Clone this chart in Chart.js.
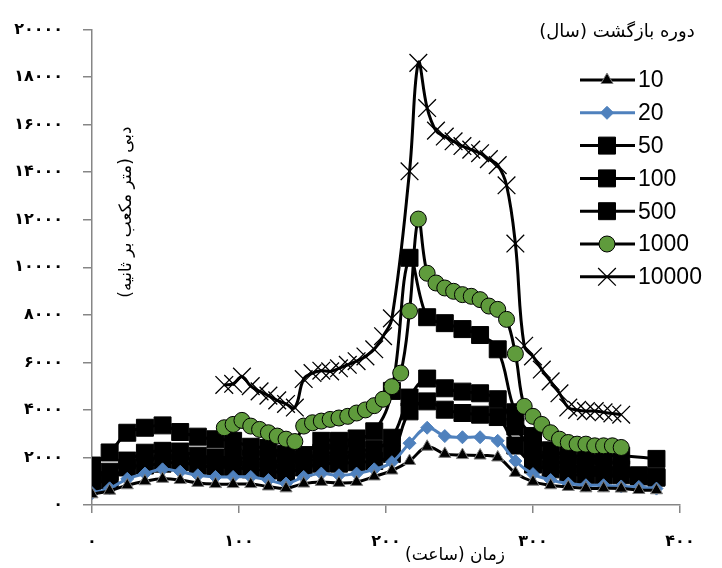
<!DOCTYPE html>
<html>
<head>
<meta charset="utf-8">
<script src="https://cdn.jsdelivr.net/npm/chart.js@4.4.1/dist/chart.umd.min.js"></script>
<style>
  html, body { margin: 0; padding: 0; background: #fff; }
  #wrap { width: 722px; height: 568px; position: relative; }
</style>
</head>
<body>
<div id="wrap"><canvas id="chart" width="722" height="568"></canvas></div>
<script>
// Données (heures / débit)
const hours12 = [0, 12, 24, 36, 48, 60, 72, 84, 96, 108, 120, 132, 144, 156, 168, 180, 192, 204, 216, 228, 240, 252, 264, 276, 288, 300, 312, 324, 336, 348, 360, 372, 384];
const q10 = [450, 600, 830, 1000, 1100, 1050, 930, 880, 880, 880, 780, 700, 900, 970, 930, 970, 1200, 1450, 1850, 2450, 2150, 2100, 2080, 2000, 1350, 980, 830, 760, 700, 700, 690, 630, 620];
const q20 = [500, 700, 1100, 1320, 1500, 1400, 1250, 1180, 1180, 1180, 1050, 900, 1180, 1320, 1250, 1320, 1500, 1800, 2600, 3250, 2900, 2850, 2850, 2700, 1850, 1300, 1050, 900, 830, 830, 780, 760, 690];
const q50 = [950, 1050, 1580, 1660, 1740, 1800, 1650, 1600, 1580, 1500, 1450, 1350, 1580, 1740, 1740, 1800, 1850, 2150, 3940, 4360, 4010, 3870, 3800, 3700, 2500, 1700, 1500, 1300, 1250, 1250, 1250, 1200, 1150];
const q100 = [1250, 1400, 1870, 2200, 2280, 2250, 2075, 2000, 2000, 1950, 1900, 1800, 1900, 2200, 2150, 2300, 2350, 2830, 4520, 5320, 4910, 4770, 4700, 4450, 3300, 2300, 1900, 1700, 1600, 1600, 1500, 1250, 1175];
const hours500 = [0, 12, 24, 36, 48, 60, 72, 84, 96, 108, 120, 132, 144, 156, 168, 180, 192, 204, 216, 228, 240, 252, 264, 276, 288, 300, 312, 324, 336, 348, 360, 384];
const q500 = [1660, 2210, 3040, 3250, 3350, 3070, 2875, 2765, 2700, 2450, 2400, 2150, 2100, 2700, 2700, 2800, 3100, 4800, 10400, 7900, 7650, 7400, 7150, 6550, 3900, 2900, 2300, 2100, 2050, 2050, 2075, 1940];
const hours1000 = [90, 96, 102, 108, 114, 120, 126, 132, 138, 144, 150, 156, 162, 168, 174, 180, 186, 192, 198, 204, 210, 216, 222, 228, 234, 240, 246, 252, 258, 264, 270, 276, 282, 288, 294, 300, 306, 312, 318, 324, 330, 336, 342, 348, 354, 360];
const q1000 = [3250, 3390, 3560, 3320, 3180, 3040, 2900, 2770, 2670, 3320, 3460, 3530, 3600, 3660, 3730, 3870, 4000, 4180, 4450, 4980, 5550, 8160, 12030, 9750, 9340, 9130, 8990, 8850, 8780, 8640, 8370, 8230, 7810, 6360, 4150, 3730, 3390, 3040, 2770, 2630, 2560, 2560, 2490, 2490, 2490, 2420];
const hours10000 = [90, 96, 102, 108, 114, 120, 126, 132, 138, 144, 150, 156, 162, 168, 174, 180, 186, 192, 198, 204, 216, 222, 228, 234, 240, 246, 252, 258, 264, 270, 276, 282, 288, 294, 300, 306, 312, 318, 324, 330, 336, 342, 348, 354, 360];
const q10000 = [5050, 5100, 5400, 5000, 4780, 4600, 4400, 4250, 4100, 5300, 5550, 5650, 5620, 5750, 5900, 6050, 6250, 6550, 7100, 7850, 14040, 18600, 16700, 15750, 15500, 15300, 15100, 14950, 14800, 14550, 14300, 13450, 11000, 6700, 6250, 5700, 5200, 4700, 4100, 4000, 3950, 3950, 3900, 3850, 3800];

const seriesNames = ['10', '20', '50', '100', '500', '1000', '10000'];
const legendTitle = 'دوره بازگشت (سال)';
const xTitle = 'زمان (ساعت)';
const yTitle = 'دبی (متر مکعب بر ثانیه)';

// Chiffres persans pour les graduations
function toFa(n) {
    return String(n).replace(/\d/g, d => '۰۱۲۳۴۵۶۷۸۹'[d]);
}

function pairs(xs, ys) {
    return xs.map((x, i) => ({ x: x, y: ys[i] }));
}

const axisGray = '#868686';
const green = '#5f9b3c';
const blue = '#4f81bd';

function serie(label, xs, ys, style, extra) {
    return Object.assign({
        label: label,
        data: pairs(xs, ys),
        borderColor: '#000',
        borderWidth: 3,
        tension: 0.4,
        pointStyle: style,
        pointBackgroundColor: '#000',
        pointBorderColor: '#000',
        pointBorderWidth: 1
    }, extra);
}

const datasets = [
    serie(seriesNames[0], hours12, q10, 'triangle', { pointRadius: 7, pointBorderColor: '#808080', order: 0 }),
    serie(seriesNames[1], hours12, q20, 'rectRot', { borderColor: blue, pointBackgroundColor: blue, pointBorderColor: blue, pointRadius: 6.5, order: 1 }),
    serie(seriesNames[2], hours12, q50, 'rect', { pointRadius: 12, order: 6 }),
    serie(seriesNames[3], hours12, q100, 'rect', { pointRadius: 12, order: 5 }),
    serie(seriesNames[4], hours500, q500, 'rect', { pointRadius: 12, order: 4 }),
    serie(seriesNames[5], hours1000, q1000, 'circle', { pointRadius: 8, pointBackgroundColor: green, order: 2 }),
    serie(seriesNames[6], hours10000, q10000, 'crossRot', { pointRadius: 12.5, pointBorderWidth: 1.3, order: 3 })
];

// Titres des axes et légende dessinés à la main
const annotations = {
    id: 'annotations',
    afterDraw(chart) {
        const ctx = chart.ctx;
        ctx.save();
        ctx.fillStyle = '#000';
        ctx.direction = 'rtl';

        // titre axe y
        ctx.save();
        ctx.translate(127, 212);
        ctx.rotate(-Math.PI / 2);
        ctx.textAlign = 'center';
        ctx.textBaseline = 'middle';
        ctx.font = '17px "DejaVu Sans"';
        ctx.fillText(yTitle, 0, 0, 176);
        ctx.restore();

        // titre axe x
        ctx.textAlign = 'center';
        ctx.textBaseline = 'middle';
        ctx.font = '17px "DejaVu Sans"';
        ctx.fillText(xTitle, 455, 556, 108);

        // titre de la légende
        ctx.font = '18px "DejaVu Sans"';
        ctx.fillText(legendTitle, 617, 32, 164);

        // entrées de la légende
        ctx.direction = 'ltr';
        chart.data.datasets.forEach(function(ds, i) {
            const y = 80 + i * 32.8;
            ctx.strokeStyle = ds.borderColor;
            ctx.lineWidth = 3;
            ctx.beginPath();
            ctx.moveTo(580, y);
            ctx.lineTo(635, y);
            ctx.stroke();
            ctx.fillStyle = ds.pointBackgroundColor;
            ctx.strokeStyle = ds.pointBorderColor;
            ctx.lineWidth = ds.pointBorderWidth;
            Chart.helpers.drawPoint(ctx, {
                pointStyle: ds.pointStyle,
                radius: ds.pointRadius,
                rotation: 0,
                borderWidth: ds.pointBorderWidth
            }, 607, y);
            ctx.fillStyle = '#000';
            ctx.textAlign = 'left';
            ctx.textBaseline = 'middle';
            ctx.font = '23px "Liberation Sans"';
            ctx.fillText(ds.label, 638, y + 1);
        });
        ctx.restore();
    }
};

const tickFont = { family: 'DejaVu Sans', size: 16, weight: 'bold' };

new Chart(document.getElementById('chart'), {
    type: 'line',
    data: { datasets: datasets },
    options: {
        responsive: false,
        animation: false,
        devicePixelRatio: 1,
        layout: { padding: { top: 23, right: 42, bottom: 0, left: 0 } },
        plugins: {
            legend: { display: false },
            tooltip: { enabled: false }
        },
        scales: {
            x: {
                type: 'linear',
                min: 0,
                max: 400,
                ticks: {
                    stepSize: 100,
                    color: '#000',
                    font: tickFont,
                    padding: 19,
                    callback: v => toFa(v)
                },
                grid: { drawOnChartArea: false, tickLength: 8, color: axisGray, lineWidth: 1.5 },
                border: { color: axisGray, width: 1.5 },
                afterFit: s => { s.height = 63; }
            },
            y: {
                min: 0,
                max: 20000,
                ticks: {
                    stepSize: 2000,
                    color: '#000',
                    font: tickFont,
                    padding: 20,
                    callback: v => toFa(v)
                },
                grid: { drawOnChartArea: false, tickLength: 9, color: axisGray, lineWidth: 1.5 },
                border: { color: axisGray, width: 1.5 },
                afterFit: s => { s.width = 92; }
            }
        }
    },
    plugins: [annotations]
});
</script>
</body>
</html>
